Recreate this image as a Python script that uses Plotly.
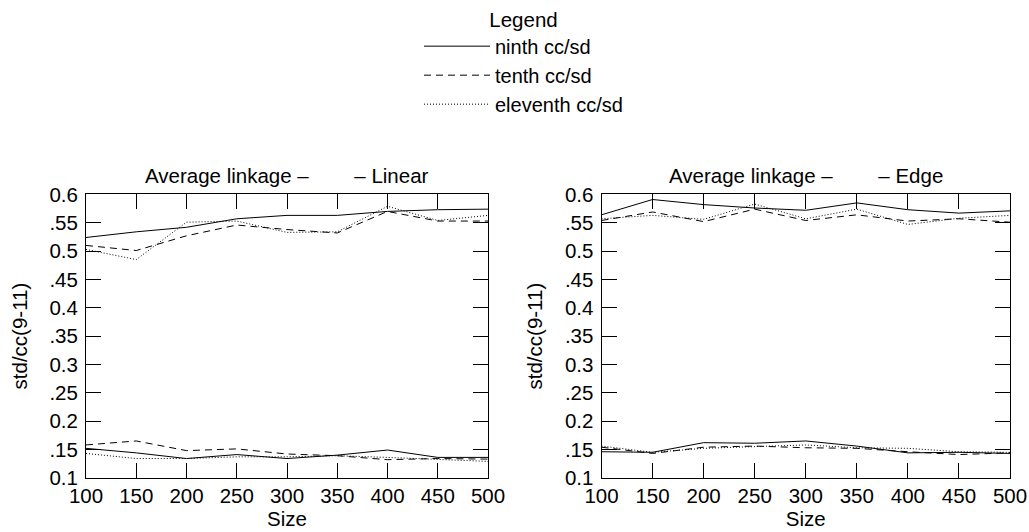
import plotly.graph_objects as go

sizes = [100, 150, 200, 250, 300, 350, 400, 450, 500]

# Linear panel (upper and lower groups)
lin_ninth_hi = [0.524, 0.534, 0.542, 0.557, 0.563, 0.563, 0.570, 0.573, 0.574]
lin_tenth_hi = [0.510, 0.501, 0.527, 0.546, 0.538, 0.532, 0.570, 0.553, 0.553]
lin_eleventh_hi = [0.503, 0.485, 0.551, 0.553, 0.533, 0.534, 0.579, 0.554, 0.563]
lin_ninth_lo = [0.152, 0.144, 0.134, 0.141, 0.134, 0.140, 0.149, 0.136, 0.136]
lin_tenth_lo = [0.158, 0.165, 0.148, 0.151, 0.142, 0.139, 0.132, 0.134, 0.133]
lin_eleventh_lo = [0.143, 0.134, 0.134, 0.137, 0.137, 0.139, 0.136, 0.133, 0.129]

# Edge panel
edge_ninth_hi = [0.564, 0.591, 0.582, 0.576, 0.572, 0.585, 0.573, 0.567, 0.571]
edge_tenth_hi = [0.554, 0.569, 0.552, 0.574, 0.554, 0.564, 0.553, 0.557, 0.551]
edge_eleventh_hi = [0.557, 0.563, 0.556, 0.583, 0.557, 0.574, 0.547, 0.558, 0.563]
edge_ninth_lo = [0.146, 0.145, 0.162, 0.161, 0.165, 0.156, 0.144, 0.145, 0.143]
edge_tenth_lo = [0.154, 0.143, 0.154, 0.156, 0.153, 0.152, 0.146, 0.141, 0.144]
edge_eleventh_lo = [0.156, 0.145, 0.152, 0.155, 0.158, 0.153, 0.152, 0.146, 0.145]

series_names = ["ninth cc/sd", "tenth cc/sd", "eleventh cc/sd"]
dashes = ["solid", "7px,5px", "1px,2px"]

y_tickvals = [0.1, 0.15, 0.2, 0.25, 0.3, 0.35, 0.4, 0.45, 0.5, 0.55, 0.6]
y_ticktext = ["0.1", ".15", "0.2", ".25", "0.3", ".35", "0.4", ".45", "0.5", ".55", "0.6"]
x_tickvals = sizes
x_ticktext = [str(s) for s in sizes]

GAP = "\u00a0" * 8
panel_titles = ["Average linkage \u2013" + GAP + "\u2013 Linear",
                "Average linkage \u2013" + GAP + "\u2013 Edge"]
x_title = "Size"
y_title = "std/cc(9-11)"

FONT = "Liberation Sans, Arial, sans-serif"
FS = 20.5
W, H = 1029, 532

fig = go.Figure()

panels = [
    ("x", "y", [lin_ninth_hi, lin_tenth_hi, lin_eleventh_hi], [lin_ninth_lo, lin_tenth_lo, lin_eleventh_lo]),
    ("x2", "y2", [edge_ninth_hi, edge_tenth_hi, edge_eleventh_hi], [edge_ninth_lo, edge_tenth_lo, edge_eleventh_lo]),
]
for pi, (xa, ya, hi, lo) in enumerate(panels):
    for si in range(3):
        for gi, grp in enumerate((hi, lo)):
            fig.add_trace(go.Scatter(
                x=sizes, y=grp[si], mode="lines", xaxis=xa, yaxis=ya,
                name=series_names[si], legendgroup=series_names[si],
                showlegend=(pi == 0 and gi == 0),
                line=dict(color="black", width=1, dash=dashes[si]),
                hoverinfo="skip",
            ))

def px_x(p):
    return p / W

def px_y(p):
    return 1 - p / H

ydom = [px_y(477.5), px_y(192.5)]
xdoms = [[px_x(86), px_x(488)], [px_x(601.5), px_x(1010)]]

axis_common = dict(
    showline=True, linecolor="black", linewidth=1, mirror="ticks",
    ticks="inside", ticklen=15, tickcolor="black", tickwidth=1,
    showgrid=False, zeroline=False, automargin=False,
    tickfont=dict(family=FONT, size=FS, color="black"),
)

layout = dict(
    template="none",
    width=W, height=H,
    margin=dict(l=0, r=0, t=0, b=0, pad=0),
    paper_bgcolor="white", plot_bgcolor="white",
    font=dict(family=FONT, size=FS, color="black"),
    showlegend=True,
    legend=dict(
        x=px_x(419), y=px_y(-3), xanchor="left", yanchor="top",
        bgcolor="rgba(0,0,0,0)", borderwidth=0,
        title=dict(text="Legend", side="top center", font=dict(family=FONT, size=20.5)),
        font=dict(family=FONT, size=20, color="black"),
        itemwidth=66, tracegroupgap=0,
    ),
    annotations=[],
)

for i, (xn, yn) in enumerate([("xaxis", "yaxis"), ("xaxis2", "yaxis2")]):
    layout[xn] = dict(axis_common, domain=xdoms[i], range=[100, 500],
                      tickvals=x_tickvals, ticktext=x_ticktext,
                      anchor="y" if i == 0 else "y2",
                      title=dict(text=x_title, standoff=5, font=dict(family=FONT, size=FS)))
    layout[yn] = dict(axis_common, domain=ydom, range=[0.1, 0.6],
                      tickvals=y_tickvals, ticktext=y_ticktext,
                      anchor="x" if i == 0 else "x2",
                      ticklabelstandoff=3,
                      title=dict(text=y_title, standoff=16, font=dict(family=FONT, size=FS)))
    layout["annotations"].append(dict(
        text=panel_titles[i], xref="paper", yref="paper",
        x=(xdoms[i][0] + xdoms[i][1]) / 2, y=ydom[1], yanchor="bottom", xanchor="center",
        yshift=5, showarrow=False, font=dict(family=FONT, size=FS, color="black"),
    ))

fig.update_layout(**layout)
fig.write_html(
    "out.html",
    config={"displayModeBar": False},
    post_script="document.body.style.margin='0';document.body.style.overflow='hidden';",
)
